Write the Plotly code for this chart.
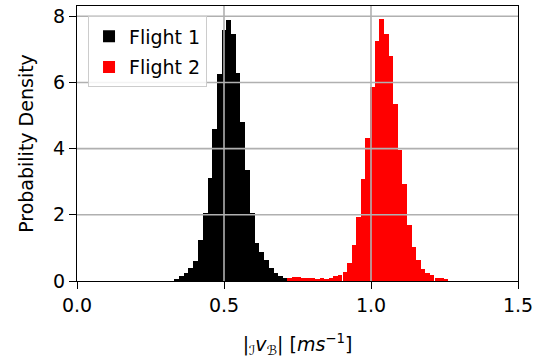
import plotly.graph_objects as go

# ---- data ----
flight1_centers = [0.339, 0.355, 0.371, 0.387, 0.403, 0.419, 0.436, 0.452, 0.468, 0.484,
                   0.500, 0.516, 0.532, 0.548, 0.564, 0.580, 0.596, 0.612, 0.628, 0.645,
                   0.661, 0.677, 0.693, 0.709]
flight1_density = [0.06, 0.14, 0.24, 0.39, 0.60, 1.24, 2.04, 3.12, 4.59, 6.27,
                   7.58, 7.88, 7.47, 6.29, 4.80, 3.35, 2.04, 1.15, 0.87, 0.62,
                   0.40, 0.25, 0.15, 0.08]
flight1_binwidth = 0.01608

flight2_centers = [0.723, 0.739, 0.754, 0.770, 0.786, 0.801, 0.817, 0.833, 0.848, 0.864,
                   0.880, 0.895, 0.911, 0.927, 0.942, 0.958, 0.974, 0.989, 1.005, 1.021,
                   1.036, 1.052, 1.067, 1.083, 1.099, 1.114, 1.130, 1.146, 1.161, 1.177,
                   1.193, 1.208, 1.224, 1.240, 1.255]
flight2_density = [0.08, 0.11, 0.11, 0.08, 0.08, 0.08, 0.05, 0.08, 0.05, 0.09,
                   0.14, 0.18, 0.27, 0.54, 1.09, 1.93, 3.07, 4.31, 5.86, 7.25,
                   7.92, 7.45, 6.80, 5.35, 3.96, 2.93, 1.69, 1.02, 0.62, 0.36,
                   0.25, 0.17, 0.09, 0.08, 0.05]
flight2_binwidth = 0.01565

x_ticks = [0.0, 0.5, 1.0, 1.5]
y_ticks = [0, 2, 4, 6, 8]
x_range = [0.0, 1.5]
y_range = [0.0, 8.31]

FONT = "DejaVu Sans"
FS = 19

fig = go.Figure()
fig.add_trace(go.Bar(x=flight1_centers, y=flight1_density, width=flight1_binwidth,
                     marker=dict(color="black", line=dict(width=0)),
                     name="Flight 1", legendgroup="f1"))
fig.add_trace(go.Bar(x=flight2_centers, y=flight2_density, width=flight2_binwidth,
                     marker=dict(color="#ff0000", line=dict(width=0)),
                     name="Flight 2", legendgroup="f2"))

# grid lines drawn above the bars (as in the reference)
shapes = []
for xv in x_ticks:
    if x_range[0] < xv < x_range[1]:
        shapes.append(dict(type="line", xref="x", yref="paper", x0=xv, x1=xv, y0=0, y1=1,
                           line=dict(color="#b0b0b0", width=1.6), layer="above"))
for yv in y_ticks:
    if y_range[0] < yv < y_range[1]:
        shapes.append(dict(type="line", xref="paper", yref="y", x0=0, x1=1, y0=yv, y1=yv,
                           line=dict(color="#b0b0b0", width=1.6), layer="above"))

fig.update_layout(
    width=541, height=362,
    margin=dict(l=77, r=23, t=6, b=81),
    paper_bgcolor="white", plot_bgcolor="white",
    barmode="overlay", bargap=0,
    font=dict(family=FONT, size=FS, color="black"),
    shapes=shapes,
    showlegend=True,
    legend=dict(x=0.025, y=0.962, xanchor="left", yanchor="top",
                bgcolor="rgba(255,255,255,0.85)", bordercolor="#cccccc", borderwidth=1,
                font=dict(family=FONT, size=FS, color="black"),
                traceorder="grouped", tracegroupgap=3),
    xaxis=dict(range=x_range, tickvals=x_ticks, ticktext=[f"{v:.1f}" for v in x_ticks],
               showgrid=False, zeroline=False,
               showline=True, linecolor="black", linewidth=1.3, mirror=True,
               ticks="outside", ticklen=7, tickwidth=1.3, tickcolor="black",
               tickfont=dict(family=FONT, size=FS),
               title=dict(text="|<sub>ℐ</sub><i>v</i><sub>ℬ</sub>| [<i>ms</i><sup>−1</sup>]",
                          font=dict(family=FONT, size=FS), standoff=22)),
    yaxis=dict(range=y_range, tickvals=y_ticks, ticktext=[str(v) for v in y_ticks],
               showgrid=False, zeroline=False,
               showline=True, linecolor="black", linewidth=1.3, mirror=True,
               ticks="outside", ticklen=7, tickwidth=1.3, tickcolor="black",
               tickfont=dict(family=FONT, size=FS),
               title=dict(text="Probability Density", font=dict(family=FONT, size=FS),
                          standoff=14)),
)

fig.write_html("out.html")
